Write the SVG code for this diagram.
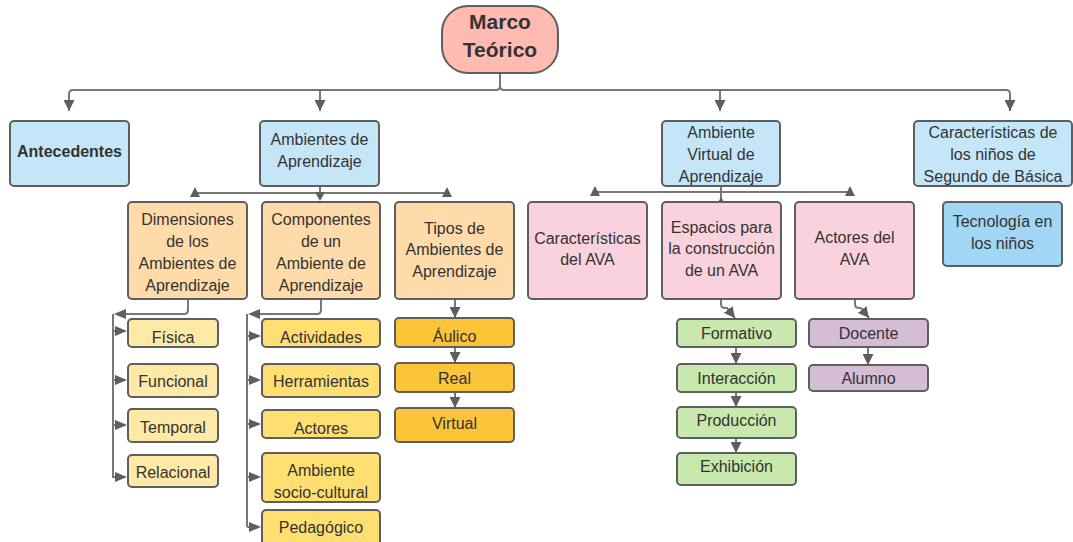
<svg xmlns="http://www.w3.org/2000/svg" width="1073" height="542" viewBox="0 0 1073 542">
<defs>
<marker id="arr" markerUnits="userSpaceOnUse" markerWidth="11" markerHeight="11" refX="10" refY="5" orient="auto" viewBox="0 0 10 10">
<path d="M0,0 L10,5 L0,10 z" fill="#5e5e5e"/>
</marker>
</defs>
<style>
.b{stroke:#5e5e5e;stroke-width:2}
.t{font-family:"Liberation Sans",Arial,sans-serif;font-size:16px;fill:#333;text-anchor:middle}
.c{fill:none;stroke:#777;stroke-width:2}
.h{fill:#5e5e5e}
.blue{fill:#c5e6f8}
.dblue{fill:#a1d6f4}
.or{fill:#ffdba9}
.ly{fill:#ffe9a6}
.y{fill:#ffdf71}
.g{fill:#fcc438}
.pk{fill:#f9d2de}
.gr{fill:#c8e8ad}
.pu{fill:#d5bdd6}
</style>
<rect width="1073" height="542" fill="#ffffff"/>

<g id="connectors">
<path class="c" d="M500 73 V86 Q500 90 496 90 H73 Q69 90 69 94 V111" marker-end="url(#arr)"/>
<path class="c" d="M320 90 V111" marker-end="url(#arr)"/>
<path class="c" d="M500 86 Q500 90 504 90 H1006 Q1010 90 1010 94 V111" marker-end="url(#arr)"/>
<path class="c" d="M720 90 V111" marker-end="url(#arr)"/>

<path class="c" d="M320 186 V193 M195 193 H447"/>
<polygon class="h" points="195,187 190,197 200,197"/>
<polygon class="h" points="447,187 442,197 452,197"/>
<polygon class="h" points="315,192 325,192 320,201"/>

<path class="c" d="M721 186 V192 M595 192 H850 M721 192 V200"/>
<polygon class="h" points="595,186 590,196 600,196"/>
<polygon class="h" points="850,186 845,196 855,196"/>
<polygon class="h" points="721,197 716,206 726,206"/>

<path class="c" d="M188 299 V310 Q188 314 184 314 H124"/>
<polygon class="h" points="114,314 126,309 126,319"/>
<path class="c" d="M113 314 V478"/>
<path class="c" d="M113 331 H118 M113 380 H118 M113 425 H118 M113 477 H118"/>
<polygon class="h" points="127,331 115,326 115,336"/>
<polygon class="h" points="127,380 115,375 115,385"/>
<polygon class="h" points="127,425 115,420 115,430"/>
<polygon class="h" points="127,477 115,472 115,482"/>

<path class="c" d="M321 299 V310 Q321 314 317 314 H258"/>
<polygon class="h" points="248,314 260,309 260,319"/>
<path class="c" d="M247 314 V527"/>
<path class="c" d="M247 336 H252 M247 380 H252 M247 424 H252 M247 477 H252 M247 527 H252"/>
<polygon class="h" points="261,336 249,331 249,341"/>
<polygon class="h" points="261,380 249,375 249,385"/>
<polygon class="h" points="261,424 249,419 249,429"/>
<polygon class="h" points="261,477 249,472 249,482"/>
<polygon class="h" points="261,527 249,522 249,532"/>

<path class="c" d="M455 299 V318" marker-end="url(#arr)"/>
<path class="c" d="M455 347 V363" marker-end="url(#arr)"/>
<path class="c" d="M455 392 V408" marker-end="url(#arr)"/>

<path class="c" d="M721 299 V304 Q721 308 725 308 L727 308 L735 318" marker-end="url(#arr)"/>
<path class="c" d="M736 347 V364" marker-end="url(#arr)"/>
<path class="c" d="M736 392 V407" marker-end="url(#arr)"/>
<path class="c" d="M736 438 V453" marker-end="url(#arr)"/>

<path class="c" d="M855 299 V304 Q855 308 859 308 L861 308 L869 318" marker-end="url(#arr)"/>
<path class="c" d="M868 347 V365" marker-end="url(#arr)"/>
</g>

<g id="marco"><rect class="b" x="442" y="6" width="116" height="67" rx="26" fill="#ffbbb1"/>
<text class="t" x="500" y="29" style="font-size:21px;font-weight:bold">Marco</text>
<text class="t" x="500" y="57" style="font-size:21px;font-weight:bold">Teórico</text></g>

<g id="antecedentes"><rect class="b blue" x="10" y="121" width="119" height="65" rx="4"/>
<text class="t" x="69.5" y="157" style="font-weight:bold">Antecedentes</text></g>

<g id="ambientes"><rect class="b blue" x="260" y="121" width="119" height="65" rx="4"/>
<text class="t" x="319.5" y="144.5">Ambientes de</text>
<text class="t" x="319.5" y="166.5">Aprendizaje</text></g>

<g id="ava"><rect class="b blue" x="662" y="121" width="118" height="65" rx="4"/>
<text class="t" x="721" y="137.5">Ambiente</text>
<text class="t" x="721" y="159.5">Virtual de</text>
<text class="t" x="721" y="181.5">Aprendizaje</text></g>

<g id="caract-ninos"><rect class="b blue" x="914" y="121" width="158" height="65" rx="4"/>
<text class="t" x="993" y="137.5">Características de</text>
<text class="t" x="993" y="159.5">los niños de</text>
<text class="t" x="993" y="181.5">Segundo de Básica</text></g>

<g id="tecnologia"><rect class="b dblue" x="943" y="202" width="119" height="64" rx="4"/>
<text class="t" x="1002.5" y="226.5">Tecnología en</text>
<text class="t" x="1002.5" y="248.5">los niños</text></g>

<g id="dimensiones"><rect class="b or" x="128" y="202" width="119" height="97" rx="4"/>
<text class="t" x="187.5" y="224.5">Dimensiones</text>
<text class="t" x="187.5" y="246.5">de los</text>
<text class="t" x="187.5" y="268.5">Ambientes de</text>
<text class="t" x="187.5" y="290.5">Aprendizaje</text></g>

<g id="componentes"><rect class="b or" x="262" y="202" width="118" height="97" rx="4"/>
<text class="t" x="321" y="224.5">Componentes</text>
<text class="t" x="321" y="246.5">de un</text>
<text class="t" x="321" y="268.5">Ambiente de</text>
<text class="t" x="321" y="290.5">Aprendizaje</text></g>

<g id="tipos"><rect class="b or" x="395" y="202" width="119" height="97" rx="4"/>
<text class="t" x="454.5" y="233.5">Tipos de</text>
<text class="t" x="454.5" y="255">Ambientes de</text>
<text class="t" x="454.5" y="276.5">Aprendizaje</text></g>

<g id="caract-ava"><rect class="b pk" x="528" y="202" width="119" height="97" rx="4"/>
<text class="t" x="587.5" y="243.5">Características</text>
<text class="t" x="587.5" y="264.5">del AVA</text></g>

<g id="espacios"><rect class="b pk" x="662" y="202" width="119" height="97" rx="4"/>
<text class="t" x="721.5" y="232.5">Espacios para</text>
<text class="t" x="721.5" y="253.5">la construcción</text>
<text class="t" x="721.5" y="275.5">de un AVA</text></g>

<g id="actores-ava"><rect class="b pk" x="795" y="202" width="119" height="97" rx="4"/>
<text class="t" x="854.5" y="242.5">Actores del</text>
<text class="t" x="854.5" y="264.5">AVA</text></g>

<g id="fisica"><rect class="b ly" x="128" y="319" width="90" height="28" rx="4"/>
<text class="t" x="173" y="342.5">Física</text></g>
<g id="funcional"><rect class="b ly" x="128" y="364" width="90" height="33" rx="4"/>
<text class="t" x="173" y="386.5">Funcional</text></g>
<g id="temporal"><rect class="b ly" x="128" y="409" width="90" height="33" rx="4"/>
<text class="t" x="173" y="432.5">Temporal</text></g>
<g id="relacional"><rect class="b ly" x="128" y="455" width="90" height="32" rx="4"/>
<text class="t" x="173" y="477.5">Relacional</text></g>

<g id="actividades"><rect class="b y" x="262" y="319" width="118" height="28" rx="4"/>
<text class="t" x="321" y="342.5">Actividades</text></g>
<g id="herramientas"><rect class="b y" x="262" y="364" width="118" height="33" rx="4"/>
<text class="t" x="321" y="386.5">Herramientas</text></g>
<g id="actores"><rect class="b y" x="262" y="410" width="118" height="28" rx="4"/>
<text class="t" x="321" y="433.5">Actores</text></g>
<g id="sociocultural"><rect class="b y" x="262" y="453" width="118" height="49" rx="4"/>
<text class="t" x="321" y="475.5">Ambiente</text>
<text class="t" x="321" y="497.5">socio-cultural</text></g>
<g id="pedagogico"><rect class="b y" x="262" y="510" width="118" height="36" rx="4"/>
<text class="t" x="321" y="532.5">Pedagógico</text></g>

<g id="aulico"><rect class="b g" x="395" y="318" width="119" height="29" rx="4"/>
<text class="t" x="454.5" y="341.5">Áulico</text></g>
<g id="real"><rect class="b g" x="395" y="363" width="119" height="29" rx="4"/>
<text class="t" x="454.5" y="383.5">Real</text></g>
<g id="virtual"><rect class="b g" x="395" y="408" width="119" height="34" rx="4"/>
<text class="t" x="454.5" y="428.5">Virtual</text></g>

<g id="formativo"><rect class="b gr" x="677" y="319" width="119" height="28" rx="4"/>
<text class="t" x="736.5" y="338.5">Formativo</text></g>
<g id="interaccion"><rect class="b gr" x="677" y="364" width="119" height="28" rx="4"/>
<text class="t" x="736.5" y="383.5">Interacción</text></g>
<g id="produccion"><rect class="b gr" x="677" y="407" width="119" height="31" rx="4"/>
<text class="t" x="736.5" y="425.5">Producción</text></g>
<g id="exhibicion"><rect class="b gr" x="677" y="453" width="119" height="32" rx="4"/>
<text class="t" x="736.5" y="471.5">Exhibición</text></g>

<g id="docente"><rect class="b pu" x="809" y="319" width="119" height="28" rx="4"/>
<text class="t" x="868.5" y="338.5">Docente</text></g>
<g id="alumno"><rect class="b pu" x="809" y="365" width="119" height="26" rx="4"/>
<text class="t" x="868.5" y="383.5">Alumno</text></g>
</svg>
